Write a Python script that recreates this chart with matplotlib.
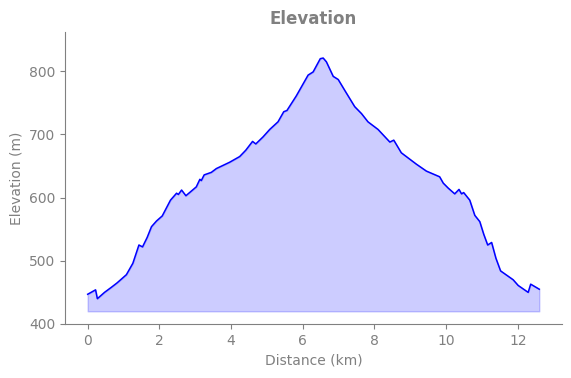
import matplotlib
matplotlib.use("Agg")
import matplotlib.pyplot as plt
import numpy as np

distance_km = [0.0, 0.22, 0.27, 0.47, 0.66, 0.82, 1.08, 1.26, 1.43, 1.53, 1.66, 1.78,
               1.92, 2.08, 2.31, 2.48, 2.53, 2.62, 2.74, 3.03, 3.13, 3.17, 3.25, 3.45,
               3.59, 3.96, 4.24, 4.41, 4.60, 4.69, 4.89, 5.08, 5.31, 5.47, 5.56, 5.82,
               6.15, 6.29, 6.49, 6.57, 6.66, 6.85, 6.99, 7.17, 7.45, 7.64, 7.82, 8.10,
               8.43, 8.54, 8.75, 9.17, 9.45, 9.82, 9.92, 10.06, 10.24, 10.36, 10.43,
               10.49, 10.66, 10.80, 10.94, 11.05, 11.16, 11.27, 11.39, 11.52, 11.87,
               12.01, 12.29, 12.36, 12.60]
elevation_m = [447, 454, 440, 450, 458, 465, 478, 496, 525, 522, 537, 554,
               563, 571, 596, 607, 605, 612, 603, 617, 629, 627, 636, 640,
               646, 656, 665, 675, 689, 685, 696, 708, 720, 736, 738, 761,
               794, 799, 820, 821, 815, 792, 787, 770, 744, 733, 720, 708,
               688, 691, 671, 653, 642, 633, 623, 615, 606, 613, 606,
               608, 596, 572, 562, 542, 525, 529, 504, 484, 470,
               461, 450, 463, 455]

x = np.array(distance_km)
y = np.array(elevation_m)

fig = plt.figure(figsize=(5.71, 3.78), dpi=100)
ax = fig.add_axes([0.114, 0.143, 0.870, 0.772])

ax.plot(x, y, color='blue', linewidth=1.1)
ax.fill_between(x, y, y.min() - 20, color='blue', alpha=0.2)

ax.set_xlim(-0.63, 13.23)
ax.set_ylim(400, 862)
ax.set_xticks([0, 2, 4, 6, 8, 10, 12])
ax.set_yticks([400, 500, 600, 700, 800])

gray = '#808080'
ax.set_title('Elevation', fontsize=12, fontweight='bold', color=gray)
ax.set_xlabel('Distance (km)', color=gray, fontsize=10)
ax.set_ylabel('Elevation (m)', color=gray, fontsize=10)
ax.tick_params(colors=gray, labelsize=10)
for s in ['top', 'right']:
    ax.spines[s].set_visible(False)
for s in ['left', 'bottom']:
    ax.spines[s].set_color(gray)

fig.savefig('out.png', dpi=100)
